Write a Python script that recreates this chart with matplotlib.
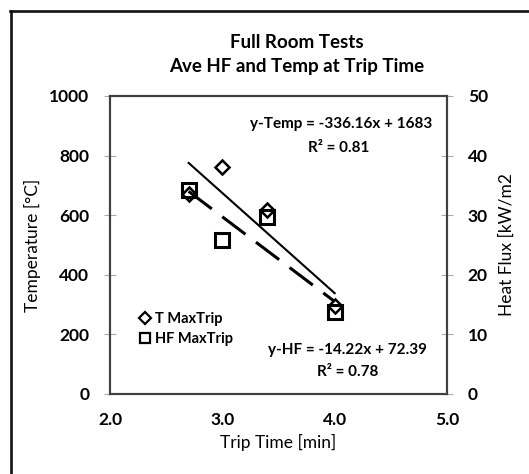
import numpy as np
import matplotlib
matplotlib.use('Agg')
import matplotlib.pyplot as plt
from matplotlib.lines import Line2D

plt.rcParams['font.family'] = ['Lato', 'DejaVu Sans']

# data
trip_time = [2.7, 3.0, 3.4, 4.0]
temp_max = [670, 763, 617, 295]
hf_max = [34.2, 25.8, 29.7, 13.8]

# trendline coefficients shown on the chart
temp_fit = (-336.16, 1683)
hf_fit = (-14.22, 72.39)
temp_r2 = 0.81
hf_r2 = 0.78

x_ticks = [2.0, 3.0, 4.0, 5.0]
temp_ticks = [0, 200, 400, 600, 800, 1000]
hf_ticks = [0, 10, 20, 30, 40, 50]

fig = plt.figure(figsize=(5.29, 4.74), dpi=100)
ax = fig.add_axes([110/529, 1-394/474, 337/529, 298/474])
ax2 = ax.twinx()

# outer chart-area frame (right/bottom edges fall outside the image)
fig.add_artist(Line2D([10/529, 1], [1-11/474, 1-11/474], transform=fig.transFigure,
                      color='#111111', lw=1.9))
fig.add_artist(Line2D([11/529, 11/529], [0, 1-11/474], transform=fig.transFigure,
                      color='#111111', lw=1.9))

xs = np.array([min(trip_time), max(trip_time)])
ax.plot(xs, temp_fit[0]*xs + temp_fit[1], color='black', lw=1.5, zorder=2)
ax2.plot(xs, hf_fit[0]*xs + hf_fit[1], color='black', lw=2.2,
         linestyle=(0, (9.5, 4.3)), zorder=2)

h1, = ax.plot(trip_time, temp_max, linestyle='none', marker='D', ms=7,
              mfc='white', mec='black', mew=1.8, zorder=4, label='T MaxTrip')
h2, = ax2.plot(trip_time, hf_max, linestyle='none', marker='s', ms=9.5,
               mfc='none', mec='black', mew=2.2, zorder=3, label='HF MaxTrip')

ax.set_xlim(2, 5)
ax.set_ylim(0, 1000)
ax2.set_ylim(0, 50)
ax.set_xticks(x_ticks)
ax.set_xticklabels([f'{v:.1f}' for v in x_ticks])
ax.set_yticks(temp_ticks)
ax2.set_yticks(hf_ticks)

for a in (ax, ax2):
    for s in a.spines.values():
        s.set_color('#404040')
        s.set_linewidth(1.5)
    a.tick_params(axis='y', direction='inout', length=8, width=0.8, color='#aaaaaa',
                  labelsize=12.5, pad=11)
    for lab in a.get_yticklabels():
        lab.set_fontweight('bold')
ax.tick_params(axis='x', length=0, labelsize=12.5, pad=13)
for lab in ax.get_xticklabels():
    lab.set_fontweight('bold')

ax.set_xlabel('Trip Time [min]', fontsize=12.5, labelpad=4)
ax.set_ylabel('Temperature [°C]', fontsize=12.5, labelpad=6)
ax2.set_ylabel('Heat Flux [kW/m2', fontsize=12.5, labelpad=8)

fig.text(297/529, 1-43/474, 'Full Room Tests', ha='center', va='center',
         fontsize=13.5, fontweight='bold')
fig.text(297/529, 1-67/474, 'Ave HF and Temp at Trip Time', ha='center', va='center',
         fontsize=13.5, fontweight='bold')

ax.text(0.685, 0.906, f'y-Temp = {temp_fit[0]:.2f}x + {temp_fit[1]}', transform=ax.transAxes,
        ha='center', va='center', fontsize=11, fontweight='bold')
ax.text(0.68, 0.826, f'R² = {temp_r2:.2f}', transform=ax.transAxes,
        ha='center', va='center', fontsize=11, fontweight='bold')
ax.text(0.705, 0.148, f'y-HF = {hf_fit[0]:.2f}x + {hf_fit[1]}', transform=ax.transAxes,
        ha='center', va='center', fontsize=11, fontweight='bold')
ax.text(0.705, 0.074, f'R² = {hf_r2:.2f}', transform=ax.transAxes,
        ha='center', va='center', fontsize=11, fontweight='bold')

leg = ax2.legend([h1, h2], ['T MaxTrip', 'HF MaxTrip'], loc='upper left',
                 bbox_to_anchor=(0.07, 0.295), frameon=False, handlelength=0.8,
                 handletextpad=0.3, labelspacing=0.45, borderaxespad=0,
                 prop={'size': 10.5, 'weight': 'bold'})
for lh in leg.legend_handles:
    lh.set_markersize(6.5)
    lh.set_markeredgewidth(1.6)

fig.savefig('out.png', dpi=100)
